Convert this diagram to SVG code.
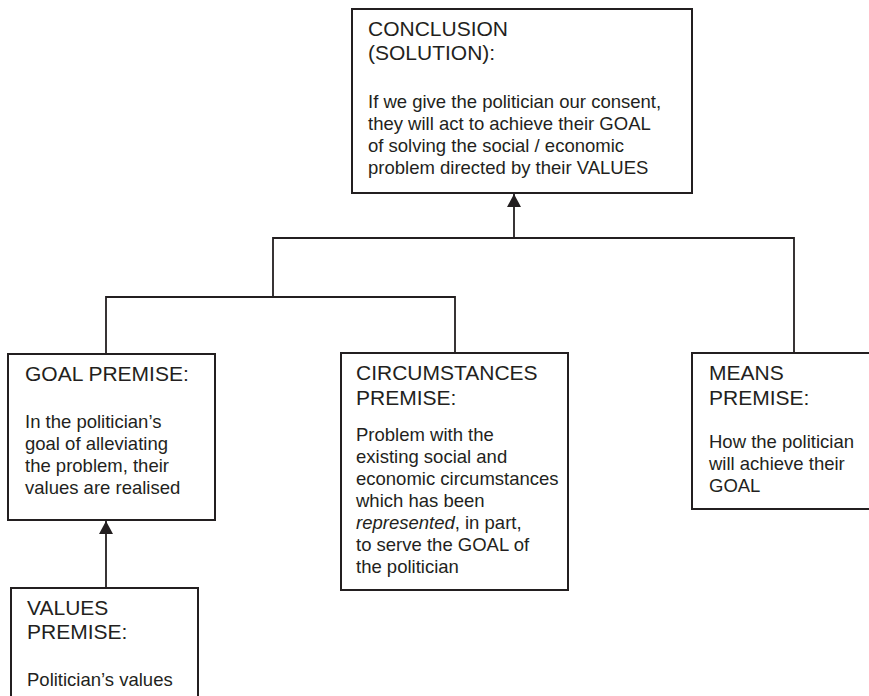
<svg xmlns="http://www.w3.org/2000/svg" width="869" height="696" viewBox="0 0 869 696">
<style>
.box{fill:#fff;stroke:#231f20;stroke-width:2}
.con{fill:none;stroke:#231f20;stroke-width:1.8}
text{font-family:"Liberation Sans",Arial,sans-serif;fill:#231f20}
.h{font-size:21px}
.b{font-size:18.5px}
</style>
<defs>
<marker id="arr" viewBox="0 0 13 14" refX="13" refY="7" markerWidth="13" markerHeight="14" markerUnits="userSpaceOnUse" orient="auto">
<path d="M0,0 L13,7 L0,14 z" fill="#231f20"/>
</marker>
</defs>
<rect width="869" height="696" fill="#fff"/>
<g id="connectors">
<polyline class="con" points="106,354 106,297 455,297 455,353"/>
<polyline class="con" points="273,297 273,238 794,238 794,353"/>
<line class="con" x1="514" y1="238" x2="514" y2="194" marker-end="url(#arr)"/>
<line class="con" x1="106" y1="588" x2="106" y2="521" marker-end="url(#arr)"/>
</g>
<g id="conclusion">
<rect class="box" x="352" y="9" width="340" height="184"/>
<text class="h" x="368" y="36">CONCLUSION</text>
<text class="h" x="368" y="60">(SOLUTION):</text>
<text class="b" x="368" y="108">If we give the politician our consent,</text>
<text class="b" x="368" y="130">they will act to achieve their GOAL</text>
<text class="b" x="368" y="152">of solving the social / economic</text>
<text class="b" x="368" y="174">problem directed by their VALUES</text>
</g>
<g id="goal">
<rect class="box" x="8" y="354" width="207" height="166"/>
<text class="h" x="25" y="381">GOAL PREMISE:</text>
<text class="b" x="25" y="428">In the politician’s</text>
<text class="b" x="25" y="450">goal of alleviating</text>
<text class="b" x="25" y="472">the problem, their</text>
<text class="b" x="25" y="494">values are realised</text>
</g>
<g id="circumstances">
<rect class="box" x="341" y="353" width="227" height="237"/>
<text class="h" x="356" y="380">CIRCUMSTANCES</text>
<text class="h" x="356" y="405">PREMISE:</text>
<text class="b" x="356" y="441">Problem with the</text>
<text class="b" x="356" y="463">existing social and</text>
<text class="b" x="356" y="485">economic circumstances</text>
<text class="b" x="356" y="507">which has been</text>
<text class="b" x="356" y="529"><tspan font-style="italic">represented</tspan>, in part,</text>
<text class="b" x="356" y="551">to serve the GOAL of</text>
<text class="b" x="356" y="573">the politician</text>
</g>
<g id="means">
<rect class="box" x="692" y="353" width="190" height="156"/>
<text class="h" x="709" y="380">MEANS</text>
<text class="h" x="709" y="405">PREMISE:</text>
<text class="b" x="709" y="448">How the politician</text>
<text class="b" x="709" y="470">will achieve their</text>
<text class="b" x="709" y="492">GOAL</text>
</g>
<g id="values">
<rect class="box" x="11" y="588" width="187" height="130"/>
<text class="h" x="27" y="615">VALUES</text>
<text class="h" x="27" y="639">PREMISE:</text>
<text class="b" x="27" y="686">Politician’s values</text>
</g>
</svg>
